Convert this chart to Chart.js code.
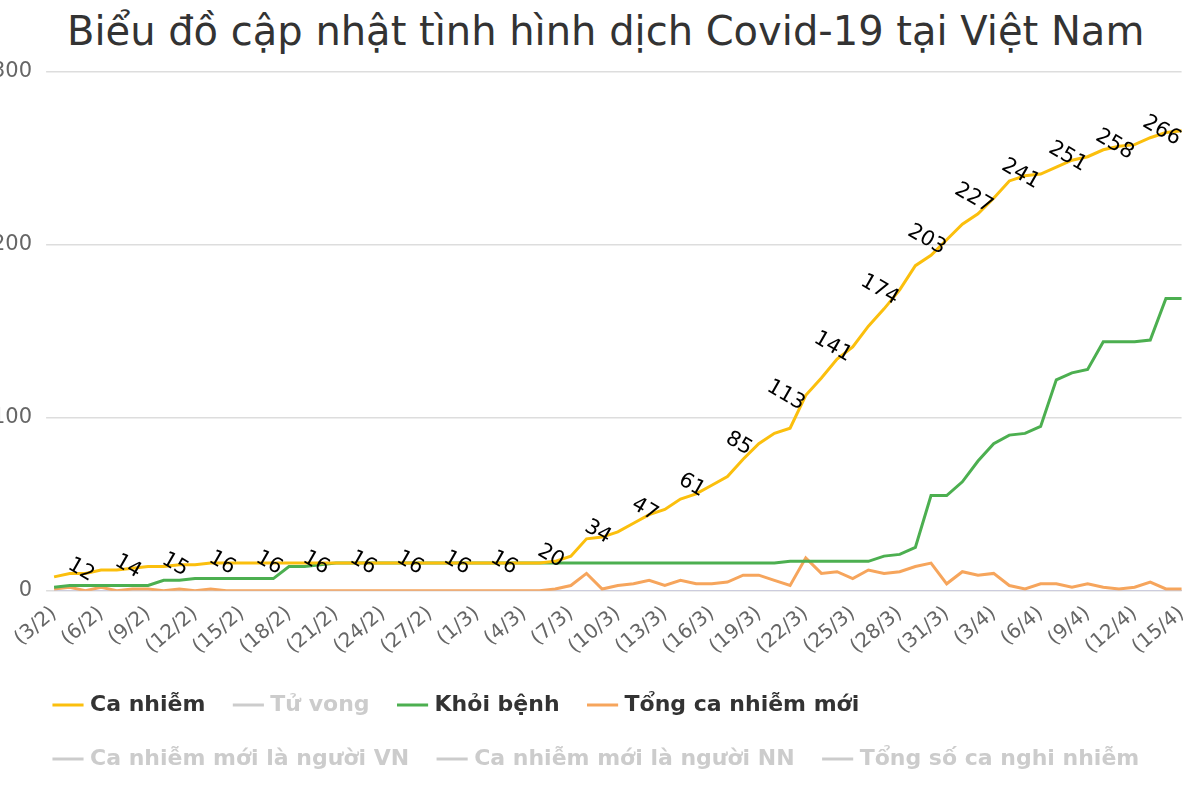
<!DOCTYPE html>
<html>
<head>
<meta charset="utf-8">
<script src="https://cdn.jsdelivr.net/npm/chart.js@4/dist/chart.umd.min.js"></script>
<style>
  body { margin: 0; background: #fff; overflow: hidden; }
  #tieude { position: absolute; left: 67px; top: 8px; font: 40px "DejaVu Sans"; color: #333; white-space: nowrap; }
  #wrap { position: absolute; left: -22px; top: 0; width: 1222px; height: 790px; }
</style>
</head>
<body>
<div id="tieude">Biểu đồ cập nhật tình hình dịch Covid-19 tại Việt Nam</div>
<div id="wrap"><canvas id="grafico"></canvas></div>
<script>
// ngày từ 3/2 đến 15/4
const ngay = [];
for (let d = 3; d <= 29; d++) ngay.push('(' + d + '/2)');
for (let d = 1; d <= 31; d++) ngay.push('(' + d + '/3)');
for (let d = 1; d <= 15; d++) ngay.push('(' + d + '/4)');

const caNhiem = [8,10,10,12,12,13,14,14,15,15,16,16,16,
  16,16,16,16,16,16,16,16,16,16,16,16,16,16,16,16,16,16,16,17,
  20,30,31,34,39,44,47,53,56,61,66,76,85,91,94,113,123,134,141,153,
  163,174,188,194,203,212,218,227,237,240,241,245,249,251,255,257,258,262,265,266];
const khoiBenh = [2,3,3,3,3,3,3,6,6,7,7,7,7,7,7,14,14,15,
  16,16,16,16,16,16,16,16,16,16,16,16,16,16,16,16,16,16,16,16,16,16,16,16,16,16,16,16,16,
  17,17,17,17,17,17,
  20,21,25,55,55,63,75,85,90,91,95,122,126,128,144,144,144,145,169,169];
const moi = [1,2,0,2,0,1,1,0,1,0,1,
  0,0,0,0,0,0,0,0,0,0,0,0,0,0,0,0,0,0,0,0,0,
  1,3,10,1,3,4,6,3,6,4,4,5,9,9,6,3,19,10,11,7,12,10,11,14,16,4,11,9,10,3,
  1,4,4,2,4,2,1,2,5,1,1];
const rong = ngay.map(() => null);

// nhãn số trên đường Ca nhiễm, mỗi 3 ngày
const nhanSo = {
  id: 'nhanSo',
  afterDatasetsDraw(chart) {
    const ctx = chart.ctx;
    const meta = chart.getDatasetMeta(0);
    ctx.save();
    ctx.font = '21px "DejaVu Sans"';
    ctx.fillStyle = '#000';
    ctx.textAlign = 'center';
    ctx.textBaseline = 'middle';
    meta.data.forEach((p, i) => {
      if (i % 3 !== 0 || i === 0) return;
      ctx.save();
      ctx.translate(p.x - 20, p.y);
      ctx.rotate(Math.PI / 6);
      ctx.fillText(caNhiem[i], 0, 0);
      ctx.restore();
    });
    ctx.restore();
  }
};

// dời chú giải sang phải
const doiChuGiai = {
  id: 'doiChuGiai',
  afterLayout(chart) { chart.legend.left += 47; }
};

function serie(label, data, color, hidden) {
  return { label, data, borderColor: color, backgroundColor: color, borderWidth: 3,
           pointRadius: 0, tension: 0, hidden: hidden };
}

document.addEventListener('DOMContentLoaded', function() {
  const ctx = document.getElementById('grafico').getContext('2d');
  new Chart(ctx, {
    type: 'line',
    data: {
      labels: ngay,
      datasets: [
        serie('Ca nhiễm', caNhiem, '#fbbf0d', false),
        serie('Tử vong', rong, '#ccc', true),
        serie('Khỏi bệnh', khoiBenh, '#4caf50', false),
        serie('Tổng ca nhiễm mới', moi, '#f6a55c', false),
        serie('Ca nhiễm mới là người VN', rong, '#ccc', true),
        serie('Ca nhiễm mới là người NN', rong, '#ccc', true),
        serie('Tổng số ca nghi nhiễm', rong, '#ccc', true)
      ]
    },
    options: {
      responsive: true,
      maintainAspectRatio: false,
      animation: false,
      layout: { padding: { top: 72, right: 10, left: 0, bottom: 10 } },
      plugins: {
        legend: {
          position: 'bottom', align: 'start',
          onClick: null,
          labels: {
            usePointStyle: true, pointStyle: 'line', boxWidth: 32, padding: 32,
            font: { family: 'DejaVu Sans', size: 22, weight: 'bold' },
            generateLabels(chart) {
              return chart.data.datasets.map((ds, i) => ({
                text: ds.label,
                strokeStyle: ds.hidden ? '#ccc' : ds.borderColor,
                fillStyle: ds.borderColor,
                lineWidth: 3,
                pointStyle: 'line',
                hidden: false,
                fontColor: ds.hidden ? '#ccc' : '#333',
                datasetIndex: i
              }));
            }
          }
        },
        tooltip: { enabled: false }
      },
      scales: {
        y: { min: 0, max: 300, ticks: { stepSize: 100, color: '#666', font: { family: 'DejaVu Sans', size: 21 }, padding: 14 },
             border: { display: false }, grid: { color: '#ddd', lineWidth: 1.5 } },
        x: { grid: { display: false }, border: { color: '#ccd' },
             ticks: { autoSkip: false, maxRotation: 40, minRotation: 40, color: '#666',
                      font: { family: 'DejaVu Sans', size: 20 },
                      callback: function(v, i) { return i % 3 === 0 ? ngay[i] : ''; } } }
      }
    },
    plugins: [nhanSo, doiChuGiai]
  });
});
</script>
</body>
</html>
